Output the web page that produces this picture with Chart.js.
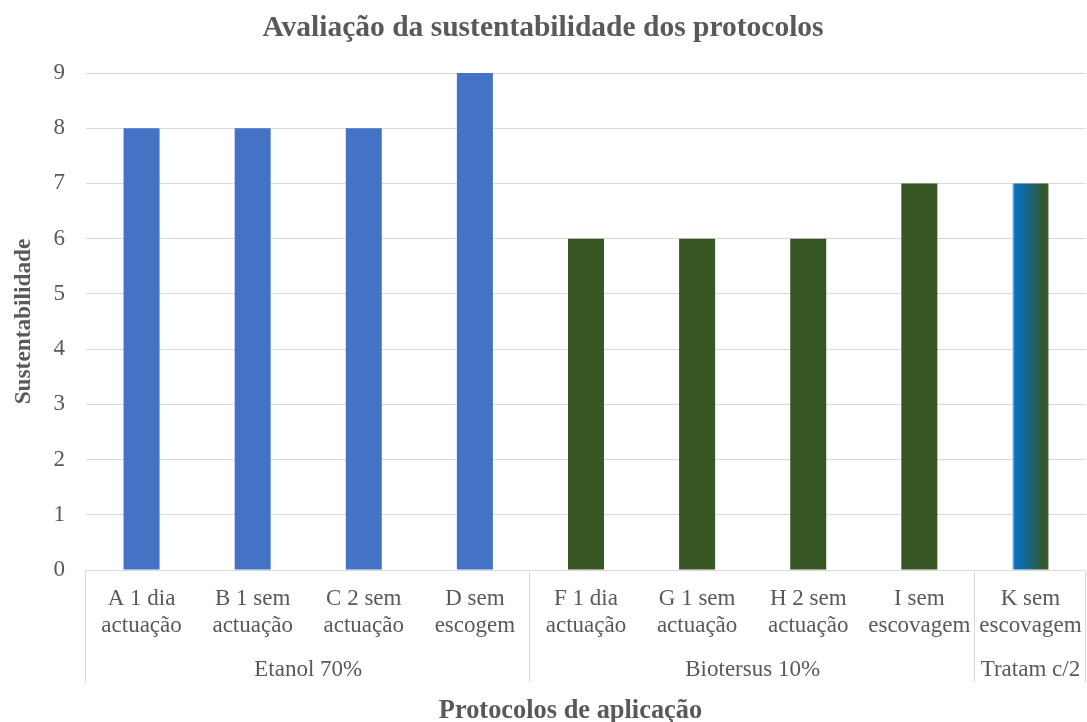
<!DOCTYPE html>
<html>
<head>
<meta charset="utf-8">
<script src="https://cdn.jsdelivr.net/npm/chart.js@4"></script>
<style>
  html, body { margin: 0; padding: 0; background: #fff; }
  #wrap { width: 1087px; height: 722px; }
</style>
</head>
<body>
<div id="wrap"><canvas id="protocolChart"></canvas></div>
<script>
const categories = [
    ['A 1 dia', 'actuação'],
    ['B 1 sem', 'actuação'],
    ['C 2 sem', 'actuação'],
    ['D sem', 'escogem'],
    ['F 1 dia', 'actuação'],
    ['G 1 sem', 'actuação'],
    ['H 2 sem', 'actuação'],
    ['I sem', 'escovagem'],
    ['K sem', 'escovagem']
];
const sustentabilidade = [8, 8, 8, 9, 6, 6, 6, 7, 7];
const groupNames = ['Etanol 70%', 'Biotersus 10%', 'Tratam c/2'];
const groupSizes = [4, 4, 1];
const yTicks = [0, 1, 2, 3, 4, 5, 6, 7, 8, 9];
const xTitle = 'Protocolos de aplicação';

const FONT = "'Liberation Serif', 'Times New Roman', serif";
const TEXT = '#595959';
const GRID = '#d9d9d9';

// bar colours follow the groups: blue, dark green, and a gradient for the last one
const barColors = [];
groupSizes.forEach((n, g) => {
    for (let i = 0; i < n; i++) {
        barColors.push(g === 0 ? '#4472c4' : g === 1 ? '#375623' : '#0070c0');
    }
});

// gradient fill for the single "Tratam c/2" bar
const gradientBar = {
    id: 'gradientBar',
    beforeDatasetsDraw(chart) {
        const meta = chart.getDatasetMeta(0);
        const bar = meta.data[meta.data.length - 1];
        if (!bar) return;
        const half = bar.width / 2;
        const g = chart.ctx.createLinearGradient(bar.x - half, 0, bar.x + half, 0);
        g.addColorStop(0, '#9dc3e6');
        g.addColorStop(0.07, '#0a6fc0');
        g.addColorStop(0.2, '#0a6cb4');
        g.addColorStop(0.9, '#375623');
        g.addColorStop(1, '#3f5e2c');
        bar.options.backgroundColor = g;
    }
};

// second row of the category axis (group names + separators) and the axis title
const groupAxis = {
    id: 'groupAxis',
    afterDraw(chart) {
        const { ctx, chartArea, scales } = chart;
        const x = scales.x;
        const top = chartArea.bottom;
        const bottom = chartArea.bottom + 112;
        const step = x.getPixelForValue(1) - x.getPixelForValue(0);
        ctx.save();
        ctx.strokeStyle = GRID;
        ctx.lineWidth = 1;
        ctx.fillStyle = TEXT;
        ctx.font = '23px ' + FONT;
        ctx.textAlign = 'center';
        ctx.textBaseline = 'middle';
        let start = 0;
        const edges = [chartArea.left];
        groupSizes.forEach((n, g) => {
            const left = x.getPixelForValue(start) - step / 2;
            const right = x.getPixelForValue(start + n - 1) + step / 2;
            edges.push(right);
            ctx.fillText(groupNames[g], (left + right) / 2, chartArea.bottom + 100);
            start += n;
        });
        edges.forEach(px => {
            const xp = Math.round(px) - 0.5;
            ctx.beginPath();
            ctx.moveTo(xp, top);
            ctx.lineTo(xp, bottom);
            ctx.stroke();
        });
        // axis title, centred under the axis including its tick labels
        ctx.font = 'bold 26.4px ' + FONT;
        ctx.textBaseline = 'alphabetic';
        const yAxis = scales.y;
        ctx.fillText(xTitle, (yAxis.left + 55 + chartArea.right) / 2, chartArea.bottom + 148);
        ctx.restore();
    }
};

const ctx = document.getElementById('protocolChart').getContext('2d');
const chart = new Chart(ctx, {
    type: 'bar',
    data: {
        labels: categories,
        datasets: [{
            label: 'Sustentabilidade',
            data: sustentabilidade,
            backgroundColor: barColors,
            borderWidth: 0,
            categoryPercentage: 0.36,
            barPercentage: 0.9
        }]
    },
    options: {
        responsive: true,
        maintainAspectRatio: false,
        animation: false,
        layout: {
            padding: { left: 0, right: 1, top: 0, bottom: 0 }
        },
        plugins: {
            legend: { display: false },
            tooltip: { enabled: false },
            title: {
                display: true,
                text: 'Avaliação da sustentabilidade dos protocolos',
                color: TEXT,
                font: { family: FONT, size: 29.5, weight: 'bold', lineHeight: 1.2 },
                padding: { top: 10.3, bottom: 27.3 }
            }
        },
        scales: {
            x: {
                grid: { display: false, drawTicks: false },
                border: { display: false },
                ticks: {
                    color: TEXT,
                    font: { family: FONT, size: 23, lineHeight: 1.18 },
                    padding: 15,
                    maxRotation: 0,
                    autoSkip: false
                },
                afterFit(scale) {
                    scale.height = 152;
                    scale.paddingLeft = 0;
                    scale.paddingRight = 0;
                }
            },
            y: {
                min: yTicks[0],
                max: yTicks[yTicks.length - 1],
                afterBuildTicks(scale) {
                    scale.ticks = yTicks.map(v => ({ value: v }));
                },
                afterFit(scale) {
                    scale.width = 86;
                },
                grid: { color: GRID, drawTicks: false },
                border: { display: false },
                ticks: {
                    color: TEXT,
                    font: { family: FONT, size: 23 },
                    padding: 21
                },
                title: {
                    display: true,
                    text: 'Sustentabilidade',
                    color: TEXT,
                    font: { family: FONT, size: 23.3, weight: 'bold', lineHeight: 1.2 },
                    padding: { top: 9.5, bottom: 0 }
                }
            }
        }
    },
    plugins: [gradientBar, groupAxis]
});
</script>
</body>
</html>
